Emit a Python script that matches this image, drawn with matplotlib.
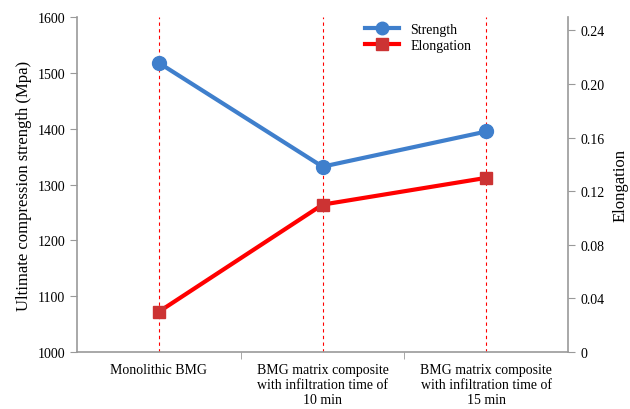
import matplotlib.pyplot as plt
from matplotlib.lines import Line2D

plt.rcParams['font.family'] = 'serif'
plt.rcParams['font.serif'] = ['Liberation Serif', 'DejaVu Serif']

categories = ["Monolithic BMG",
              "BMG matrix composite\nwith infiltration time of\n10 min",
              "BMG matrix composite\nwith infiltration time of\n15 min"]
strength = [1518, 1332, 1395]
elongation = [0.030, 0.110, 0.130]

blue = '#3f7fcc'
red = '#ff0000'
sq = '#cc3333'
grey = '#999999'

fig = plt.figure(figsize=(6.3, 4.1), dpi=100)
ax1 = fig.add_axes([0.122, 0.139, 0.780, 0.817])
ax2 = ax1.twinx()

x = list(range(len(categories)))
for xi in x:
    ax1.axvline(xi, color=red, linestyle=(0, (3, 3)), linewidth=0.8, zorder=1)

ax1.plot(x, strength, color=blue, linewidth=3, marker='o', markersize=10, zorder=3)
ax2.plot(x, elongation, color=red, linewidth=3, marker='s', markersize=9,
         markerfacecolor=sq, markeredgecolor=sq, zorder=3)

ax1.set_xlim(-0.5, 2.5)
ax1.set_ylim(1000, 1600)
ax2.set_ylim(0, 0.25)
ax1.set_yticks(range(1000, 1601, 100))
ax2.set_yticks([0, 0.04, 0.08, 0.12, 0.16, 0.20, 0.24])
ax2.set_yticklabels(['0', '0.04', '0.08', '0.12', '0.16', '0.20', '0.24'])

ax1.set_xticks(x)
ax1.set_xticklabels(categories, fontsize=10)
ax1.tick_params(axis='x', length=0, pad=8)
ax1.set_xticks([0.5, 1.5], minor=True)
ax1.tick_params(axis='x', which='minor', length=5, color=grey, direction='out')

ax1.set_ylabel("Ultimate compression strength (Mpa)", fontsize=12)
ax2.set_ylabel("Elongation", fontsize=12, labelpad=6)
ax1.tick_params(axis='y', labelsize=10, color=grey, length=5)
ax2.tick_params(axis='y', labelsize=10, color=grey, length=5)

for ax in (ax1, ax2):
    ax.spines['top'].set_visible(False)
    for s in ('left', 'right', 'bottom'):
        ax.spines[s].set_color(grey)
        ax.spines[s].set_linewidth(1.2)
ax1.spines['right'].set_visible(False)
ax2.spines['left'].set_visible(False)
ax2.spines['bottom'].set_visible(False)

handles = [Line2D([], [], color=blue, linewidth=3, marker='o', markersize=9),
           Line2D([], [], color=red, linewidth=3, marker='s', markersize=8,
                  markerfacecolor=sq, markeredgecolor=sq)]
ax1.legend(handles, ['Strength', 'Elongation'], loc='upper left',
           bbox_to_anchor=(0.56, 1.02), frameon=False, fontsize=10,
           handlelength=2.5, labelspacing=0.25)

fig.savefig('out.png', dpi=100)
